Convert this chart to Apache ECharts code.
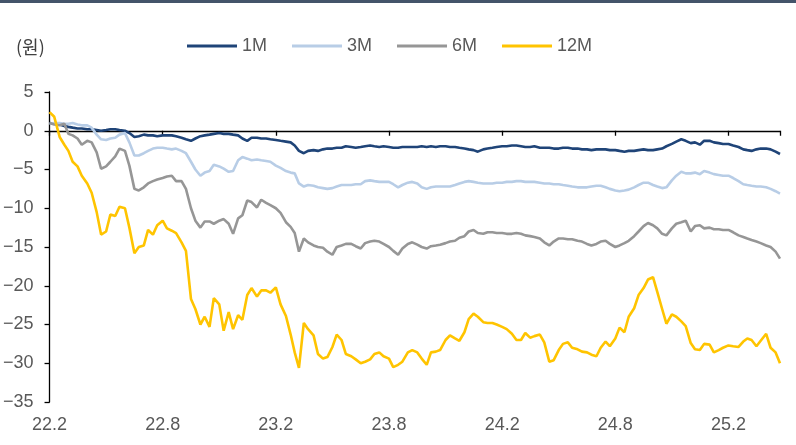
<!DOCTYPE html>
<html><head><meta charset="utf-8">
<script src="https://cdn.jsdelivr.net/npm/echarts@6/dist/echarts.min.js"></script>
<style>html,body{margin:0;padding:0;background:#fff}#c{width:796px;height:445px}</style>
</head><body><div id="c"></div>
<script>
const seriesNames = ['1M', '3M', '6M', '12M'];
const colors = ['#1f4478', '#b8cde6', '#969696', '#ffc400'];
const yTicks = { min: -35, max: 5, interval: 5 };

const m1 = [1.0,0.9,0.8,0.6,0.5,0.4,0.3,0.3,0.2,0.2,
0.1,0.0,0.1,0.2,0.2,0.1,0.0,-0.3,-0.8,-0.7,
-0.5,-0.6,-0.6,-0.7,-0.6,-0.6,-0.6,-0.7,-0.9,-1.1,
-1.3,-1.0,-0.7,-0.6,-0.5,-0.4,-0.3,-0.4,-0.4,-0.5,
-0.6,-1.0,-1.3,-0.9,-0.9,-1.0,-1.0,-1.1,-1.2,-1.3,
-1.4,-1.5,-1.9,-2.6,-2.9,-2.6,-2.5,-2.6,-2.4,-2.3,
-2.3,-2.2,-2.2,-2.0,-2.1,-2.2,-2.1,-2.0,-1.9,-2.0,
-2.1,-2.0,-2.1,-2.2,-2.2,-2.1,-2.1,-2.1,-2.1,-2.0,
-2.1,-2.0,-2.1,-2.0,-2.0,-2.1,-2.1,-2.2,-2.3,-2.4,
-2.5,-2.7,-2.4,-2.3,-2.2,-2.1,-2.0,-2.0,-1.9,-1.9,
-2.0,-2.1,-2.1,-2.0,-2.2,-2.2,-2.2,-2.3,-2.3,-2.2,
-2.2,-2.3,-2.3,-2.4,-2.4,-2.5,-2.4,-2.4,-2.4,-2.5,
-2.5,-2.6,-2.7,-2.6,-2.6,-2.5,-2.4,-2.5,-2.5,-2.4,
-2.3,-2.0,-1.7,-1.4,-1.1,-1.3,-1.6,-1.5,-1.8,-1.3,
-1.3,-1.5,-1.6,-1.7,-1.7,-1.9,-2.1,-2.4,-2.5,-2.6,
-2.4,-2.3,-2.3,-2.4,-2.7,-3.0];

const m3 = [0.9,1.0,1.0,0.9,0.9,1.0,0.8,0.7,0.7,0.4,
-0.5,-1.1,-1.2,-1.0,-0.9,-0.5,-0.3,-1.5,-3.2,-3.2,
-2.9,-2.6,-2.3,-2.2,-2.2,-2.3,-2.4,-2.3,-2.6,-2.9,
-4.0,-5.0,-5.8,-5.4,-5.2,-4.4,-4.6,-4.9,-5.3,-5.2,
-3.8,-3.4,-3.6,-3.8,-3.7,-3.8,-3.9,-4.0,-4.5,-4.8,
-5.2,-5.4,-5.5,-6.8,-7.2,-7.0,-7.1,-7.3,-7.4,-7.5,
-7.4,-7.2,-7.0,-7.0,-7.0,-6.9,-6.9,-6.5,-6.4,-6.5,
-6.6,-6.6,-6.6,-6.9,-7.3,-7.0,-6.7,-6.6,-6.8,-7.3,
-7.5,-7.3,-7.2,-7.2,-7.2,-7.2,-7.0,-6.8,-6.6,-6.5,
-6.6,-6.7,-6.8,-6.8,-6.8,-6.7,-6.7,-6.6,-6.6,-6.5,
-6.5,-6.6,-6.6,-6.6,-6.7,-6.8,-6.8,-6.9,-6.9,-7.0,
-7.1,-7.2,-7.3,-7.3,-7.3,-7.2,-7.1,-7.1,-7.3,-7.5,
-7.7,-7.8,-7.7,-7.6,-7.3,-7.0,-6.7,-6.7,-7.0,-7.2,
-7.4,-7.3,-6.4,-5.8,-5.3,-5.5,-5.5,-5.4,-5.6,-5.2,
-5.4,-5.6,-5.7,-5.8,-5.8,-6.1,-6.5,-6.9,-7.0,-7.1,
-7.2,-7.2,-7.3,-7.5,-7.8,-8.1];

const m6 = [1.0,0.8,0.7,0.9,-0.4,-0.6,-1.0,-1.8,-1.3,-1.5,
-2.8,-4.9,-4.6,-4.0,-3.3,-2.3,-2.6,-4.5,-7.5,-7.7,
-7.3,-6.8,-6.5,-6.3,-6.1,-5.9,-5.8,-6.5,-6.5,-7.5,
-10.0,-11.6,-12.5,-11.7,-11.7,-12.0,-11.6,-11.4,-12.0,-13.3,
-11.3,-10.9,-9.0,-9.2,-9.9,-8.9,-9.3,-9.6,-10.0,-10.6,
-11.8,-12.4,-13.2,-15.6,-13.9,-14.4,-14.8,-15.0,-15.1,-15.6,
-16.0,-15.0,-14.8,-14.6,-14.6,-14.9,-15.2,-14.5,-14.3,-14.2,
-14.3,-14.6,-15.0,-15.5,-16.0,-15.2,-14.6,-14.4,-14.7,-15.0,
-15.2,-14.9,-14.8,-14.7,-14.5,-14.3,-14.2,-13.8,-13.6,-13.0,
-12.8,-13.2,-13.3,-13.1,-13.1,-13.2,-13.2,-13.3,-13.3,-13.2,
-13.3,-13.5,-13.6,-13.7,-13.9,-14.4,-14.8,-14.3,-13.9,-13.9,
-14.0,-14.0,-14.2,-14.3,-14.6,-14.8,-14.6,-14.3,-14.2,-14.6,
-15.0,-14.8,-14.5,-14.2,-13.6,-13.0,-12.3,-11.9,-12.2,-12.6,
-13.3,-13.5,-12.6,-12.0,-11.8,-11.6,-13.0,-12.3,-12.2,-12.6,
-12.5,-12.7,-12.7,-12.8,-12.8,-13.1,-13.5,-13.7,-13.9,-14.1,
-14.3,-14.5,-14.8,-15.0,-15.6,-16.5];

const m12 = [2.4,1.8,-0.8,-1.8,-2.6,-4.0,-4.6,-5.8,-6.8,-8.0,
-10.5,-13.4,-13.0,-10.8,-11.0,-9.8,-10.0,-12.5,-15.8,-15.0,
-14.8,-12.8,-13.4,-12.2,-11.6,-12.6,-12.9,-13.2,-14.4,-15.5,
-21.7,-23.0,-25.0,-24.0,-25.3,-21.6,-22.4,-25.8,-23.4,-25.6,
-23.8,-24.4,-21.2,-20.3,-21.4,-20.6,-20.6,-20.9,-20.2,-22.4,
-23.9,-26.3,-28.6,-30.6,-24.8,-25.6,-26.4,-28.8,-29.4,-29.2,
-27.9,-26.3,-27.0,-28.8,-29.1,-29.5,-30.0,-29.8,-29.5,-28.8,
-28.6,-29.1,-29.4,-30.5,-30.2,-29.8,-28.6,-28.3,-28.6,-29.4,
-30.2,-28.6,-28.5,-28.3,-27.0,-26.4,-26.8,-27.1,-26.0,-24.3,
-23.6,-24.0,-24.7,-24.8,-24.8,-25.0,-25.3,-25.6,-26.2,-27.0,
-27.0,-26.1,-26.7,-26.5,-26.3,-27.3,-29.8,-29.6,-28.3,-27.5,
-27.3,-28.0,-28.2,-28.5,-28.6,-28.9,-29.1,-28.0,-27.2,-27.8,
-26.8,-25.4,-26.0,-24.0,-22.9,-21.2,-20.3,-19.2,-18.9,-20.8,
-23.0,-24.9,-23.7,-24.0,-24.6,-25.2,-27.4,-28.2,-28.3,-27.5,
-27.6,-28.6,-28.3,-28.0,-27.7,-27.8,-27.9,-27.2,-26.8,-27.0,
-27.8,-27.1,-26.2,-28.0,-28.6,-30.0];

// observation dates (roughly weekly: 1st, 8th, 16th, 23rd of each month, 2022-02 .. 2025-04)
const dates = [];
for (let y = 2022; y <= 2025; y++) {
  for (let m = 1; m <= 12; m++) {
    if (y === 2022 && m < 2) continue;
    if (y === 2025 && m > 4) break;
    for (const d of [1, 8, 16, 23]) dates.push(y + '-' + String(m).padStart(2, '0') + '-' + String(d).padStart(2, '0'));
  }
}
// month index counted from 2022-02
function monthIdx(s) {
  const [y, m, d] = s.split('-').map(Number);
  const dim = new Date(y, m, 0).getDate();
  return (y - 2022) * 12 + (m - 2) + (d - 1) / dim;
}
const xs = dates.map(monthIdx);
const xMax = xs[xs.length - 1];
const values = [m1, m3, m6, m12];

function monthLabel(v) {
  const i = Math.round(v);
  const yy = 22 + Math.floor((i + 1) / 12);
  const mm = ((i + 1) % 12) + 1;
  return yy + '.' + mm;
}

const FONT = "'Liberation Sans', Arial, 'Noto Sans CJK KR', sans-serif";
const chart = echarts.init(document.getElementById('c'), null, { renderer: 'canvas' });
chart.setOption({
  animation: false,
  backgroundColor: '#ffffff',
  color: colors,
  textStyle: { fontFamily: FONT },
  graphic: [
    { type: 'rect', left: 0, top: 0, shape: { width: 796, height: 3 }, style: { fill: '#44546a' } },
    { type: 'text', left: 16, top: 38, style: { text: '(원)', font: "18px 'Noto Sans CJK KR', sans-serif", fill: '#404040' } }
  ],
  legend: {
    left: 187, top: 37, padding: 0,
    icon: 'rect', itemWidth: 50, itemHeight: 3, itemGap: 25,
    textStyle: { color: '#595959', fontSize: 18, fontFamily: FONT },
    data: seriesNames
  },
  grid: { left: 45, right: 16, top: 92, bottom: 43, containLabel: false },
  xAxis: [
    {
      type: 'value', min: 0, max: xMax, interval: 6,
      axisLine: { onZero: true, lineStyle: { color: '#000', width: 1.3 } },
      axisTick: { show: true, inside: false, length: 5, lineStyle: { color: '#000', width: 1.3 } },
      axisLabel: { show: false },
      splitLine: { show: false }
    },
    {
      type: 'value', min: 0, max: xMax, interval: 6, position: 'bottom',
      axisLine: { show: false, onZero: false },
      axisTick: { show: false },
      axisLabel: { show: true, color: '#595959', fontSize: 18, margin: 14, fontFamily: FONT,
        formatter: monthLabel, showMaxLabel: false },
      splitLine: { show: false }
    }
  ],
  yAxis: {
    type: 'value', min: yTicks.min, max: yTicks.max, interval: yTicks.interval,
    axisLine: { show: true, lineStyle: { color: '#000', width: 1.3 } },
    axisTick: { show: true, length: 5, lineStyle: { color: '#000', width: 1.3 } },
    axisLabel: { color: '#595959', fontSize: 18, margin: 16, fontFamily: FONT,
      formatter: v => String(v).replace('-', '\u2212') },
    splitLine: { show: false }
  },
  series: seriesNames.map((n, i) => ({
    name: n, type: 'line', xAxisIndex: 0,
    data: xs.map((x, k) => [x, values[i][k]]),
    showSymbol: false, symbol: 'none',
    lineStyle: { width: 2.6, color: colors[i] },
    itemStyle: { color: colors[i] },
    z: 2 + i
  }))
});
</script></body></html>
